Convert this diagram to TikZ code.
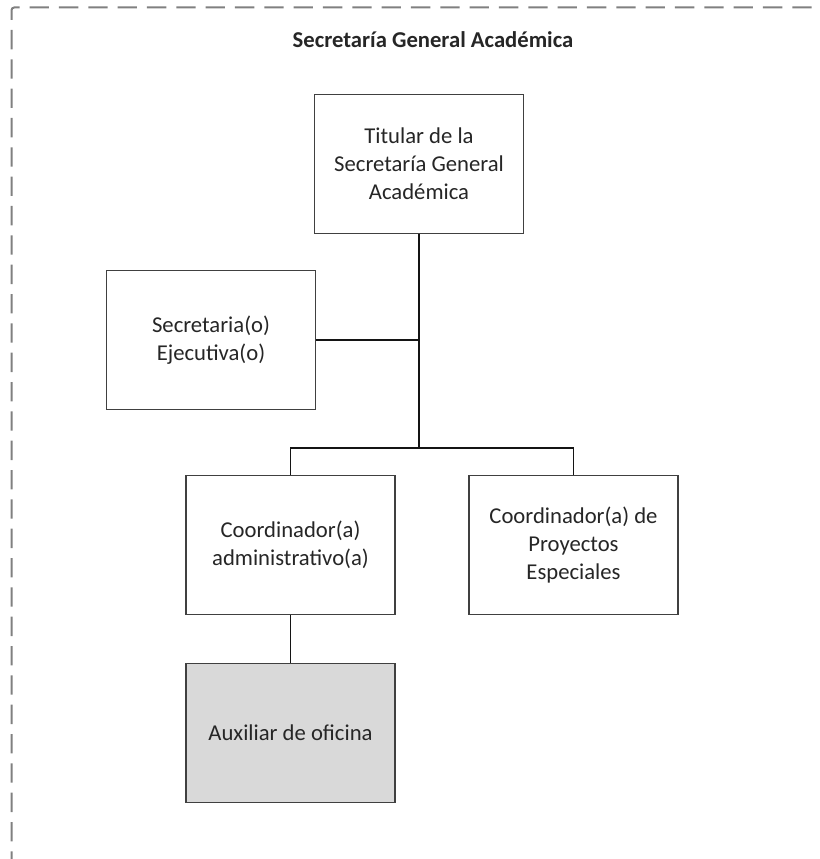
\documentclass[tikz,border=0pt]{standalone}
\usepackage{fontspec}
\setmainfont{Carlito}
\usetikzlibrary{positioning}

\definecolor{orgFrame}{RGB}{128,128,128}
\definecolor{orgBorder}{RGB}{64,64,64}
\definecolor{orgText}{RGB}{38,38,38}
\definecolor{orgLine}{RGB}{20,20,20}
\definecolor{orgAux}{RGB}{217,217,217}

\begin{document}
\begin{tikzpicture}[x=.75pt,y=-.75pt,
      frame/.style={draw=orgFrame, line width=1.5pt,
        dash pattern=on 14.5pt off 7.5pt, rounded corners=2pt},
      heading/.style={font=\fontsize{17}{21}\selectfont\bfseries,
        text=orgText},
      post/.style={draw=orgBorder, fill=white, line width=1pt,
        minimum width=156.75pt, minimum height=104pt, inner sep=0pt,
        align=center, font=\fontsize{17}{21}\selectfont, text=orgText},
      aux/.style={post, fill=orgAux},
      link/.style={draw=orgLine, line width=1pt}]
      \useasboundingbox (0,0) rectangle (819,859);

      % Dashed frame, open to the right and below.
      \begin{scope}
        \clip (0,0) rectangle (819,859);
        \path[frame] (11.5,900) -- (11.5,7.5) -- (900,7.5);
      \end{scope}

      \node[heading] (title) at (433,40) {Secretaría General Académica};

      \node[post] (tit) at (419,164)
        {Titular de la\\Secretaría General\\Académica};
      \node[post] (sec) at (211,340) {Secretaria(o)\\Ejecutiva(o)};
      \node[post] (adm) at (290.5,545) {Coordinador(a)\\administrativo(a)};
      \node[post] (proy) at (573.5,545)
        {Coordinador(a) de\\Proyectos\\Especiales};
      \node[aux] (auxof) at (290.5,733) {Auxiliar de oficina};

      \coordinate (bus) at (419,448);
      \path[link] (tit.south) -- (bus);
      \path[link] (sec.east) -- (sec.east -| tit.south);
      \path[link] (adm.north) |- (bus) -| (proy.north);
      \path[link] (adm.south) -- (auxof.north);
    \end{tikzpicture}
\end{document}
